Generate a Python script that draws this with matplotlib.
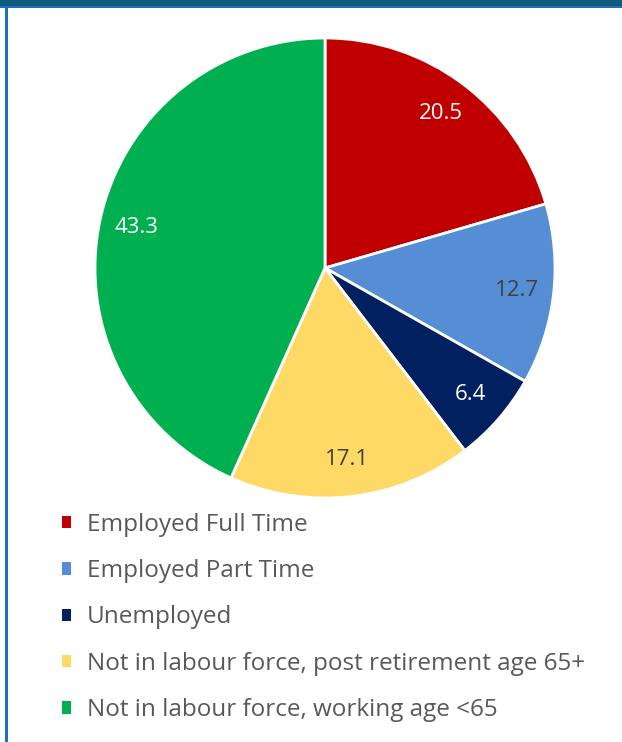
import matplotlib
matplotlib.use("Agg")
import matplotlib.pyplot as plt
from matplotlib.patches import Rectangle

plt.rcParams["font.family"] = ["Open Sans", "DejaVu Sans"]

# Labour force status shares (%)
categories = [
    "Employed Full Time",
    "Employed Part Time",
    "Unemployed",
    "Not in labour force, post retirement age 65+",
    "Not in labour force, working age <65",
]
shares = [20.5, 12.7, 6.4, 17.1, 43.3]
colors = ["#c00000", "#558ed5", "#002060", "#ffd966", "#00b050"]
label_colors = ["white", "#404040", "white", "#404040", "white"]

W, H = 622, 742
fig = plt.figure(figsize=(W / 100, H / 100), dpi=100)
fig.patch.set_facecolor("white")

# Pie centred at (325, 268) px with radius 230 px
cx, cy, r = 325, 268, 230
pad = 1.02
ax = fig.add_axes([(cx - r * pad) / W, (H - cy - r * pad) / H,
                   2 * r * pad / W, 2 * r * pad / H])
wedges, texts, autotexts = ax.pie(
    shares,
    colors=colors,
    startangle=90,
    counterclock=False,
    autopct=lambda p: f"{p:.1f}",
    pctdistance=0.84,
    wedgeprops=dict(edgecolor="white", linewidth=2),
    textprops=dict(fontsize=16),
)
for t, c in zip(autotexts, label_colors):
    t.set_color(c)
ax.set_xlim(-pad, pad)
ax.set_ylim(-pad, pad)
ax.set_aspect("equal")

# Legend below the pie
leg = fig.legend(
    wedges,
    categories,
    loc="upper left",
    bbox_to_anchor=(52 / W, 1 - 503 / H),
    frameon=False,
    fontsize=17.5,
    labelcolor="#595959",
    handlelength=0.4,
    handleheight=0.4,
    handletextpad=0.65,
    labelspacing=0.92,
    borderaxespad=0,
)
for h in leg.legend_handles:
    h.set_edgecolor("none")

# Page frame: teal band at the top and a thin blue rule on the left
fig.patches.append(Rectangle((0, 1 - 6 / H), 1, 6 / H, transform=fig.transFigure,
                             facecolor="#0e5a7a", edgecolor="none"))
fig.patches.append(Rectangle((0, 1 - 8 / H), 1, 2 / H, transform=fig.transFigure,
                             facecolor="#1a70c0", edgecolor="none"))
fig.patches.append(Rectangle((5 / W, 0), 2.5 / W, 1 - 6 / H, transform=fig.transFigure,
                             facecolor="#1a70c0", edgecolor="none"))

fig.savefig("out.png", dpi=100)
